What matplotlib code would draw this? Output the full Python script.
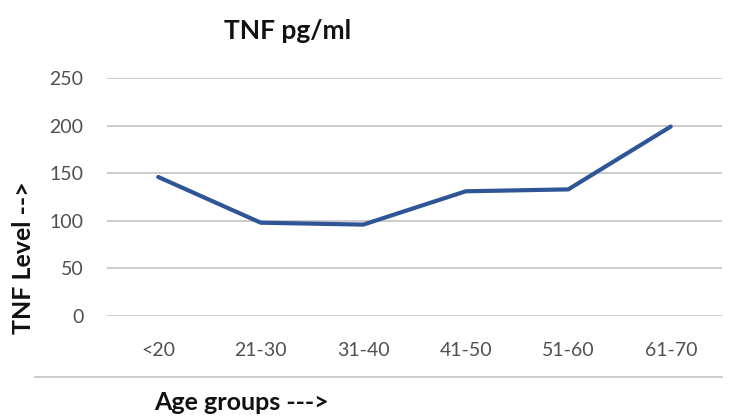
import matplotlib
matplotlib.use("Agg")
import matplotlib.pyplot as plt
from matplotlib.lines import Line2D

categories = ["<20", "21-30", "31-40", "41-50", "51-60", "61-70"]
tnf_values = [146, 98, 96, 131, 133, 199]
y_ticks = [0, 50, 100, 150, 200, 250]

plt.rcParams['font.family'] = ['Lato', 'DejaVu Sans']

fig = plt.figure(figsize=(7.33, 4.16), dpi=100)
W, H = 733, 416
ax = fig.add_axes([107 / W, (H - 316) / H, (722 - 107) / W, (316 - 78) / H])

x = list(range(len(categories)))
ax.plot(x, tnf_values, color="#2F5597", linewidth=3.0, solid_capstyle="round", solid_joinstyle="round", zorder=3)

ax.set_xlim(-0.5, len(categories) - 0.5)
ax.set_ylim(0, 250)
ax.set_yticks(y_ticks)
ax.set_xticks(x)
ax.set_xticklabels(categories)
ax.grid(axis="y", color="#c8c8c8", linewidth=1.3)
ax.set_axisbelow(True)
for s in ax.spines.values():
    s.set_visible(False)
ax.tick_params(axis="both", length=0, labelsize=14, labelcolor="#505050")
ax.tick_params(axis="y", pad=17)
ax.tick_params(axis="x", pad=19)

fig.text(288 / W, 1 - 31 / H, "TNF pg/ml", ha="center", va="center", fontsize=19, fontweight="bold", color="#111111")
fig.text(24 / W, 1 - 258 / H, "TNF Level -->", ha="center", va="center", rotation=90, fontsize=18, fontweight="bold", color="#111111")
fig.text(242 / W, 1 - 403 / H, "Age groups --->", ha="center", va="center", fontsize=18, fontweight="bold", color="#111111")

fig.add_artist(Line2D([35 / W, 722 / W], [1 - 377 / H, 1 - 377 / H], transform=fig.transFigure, color="#c8c8c8", linewidth=1.3))

fig.savefig("out.png", dpi=100)
